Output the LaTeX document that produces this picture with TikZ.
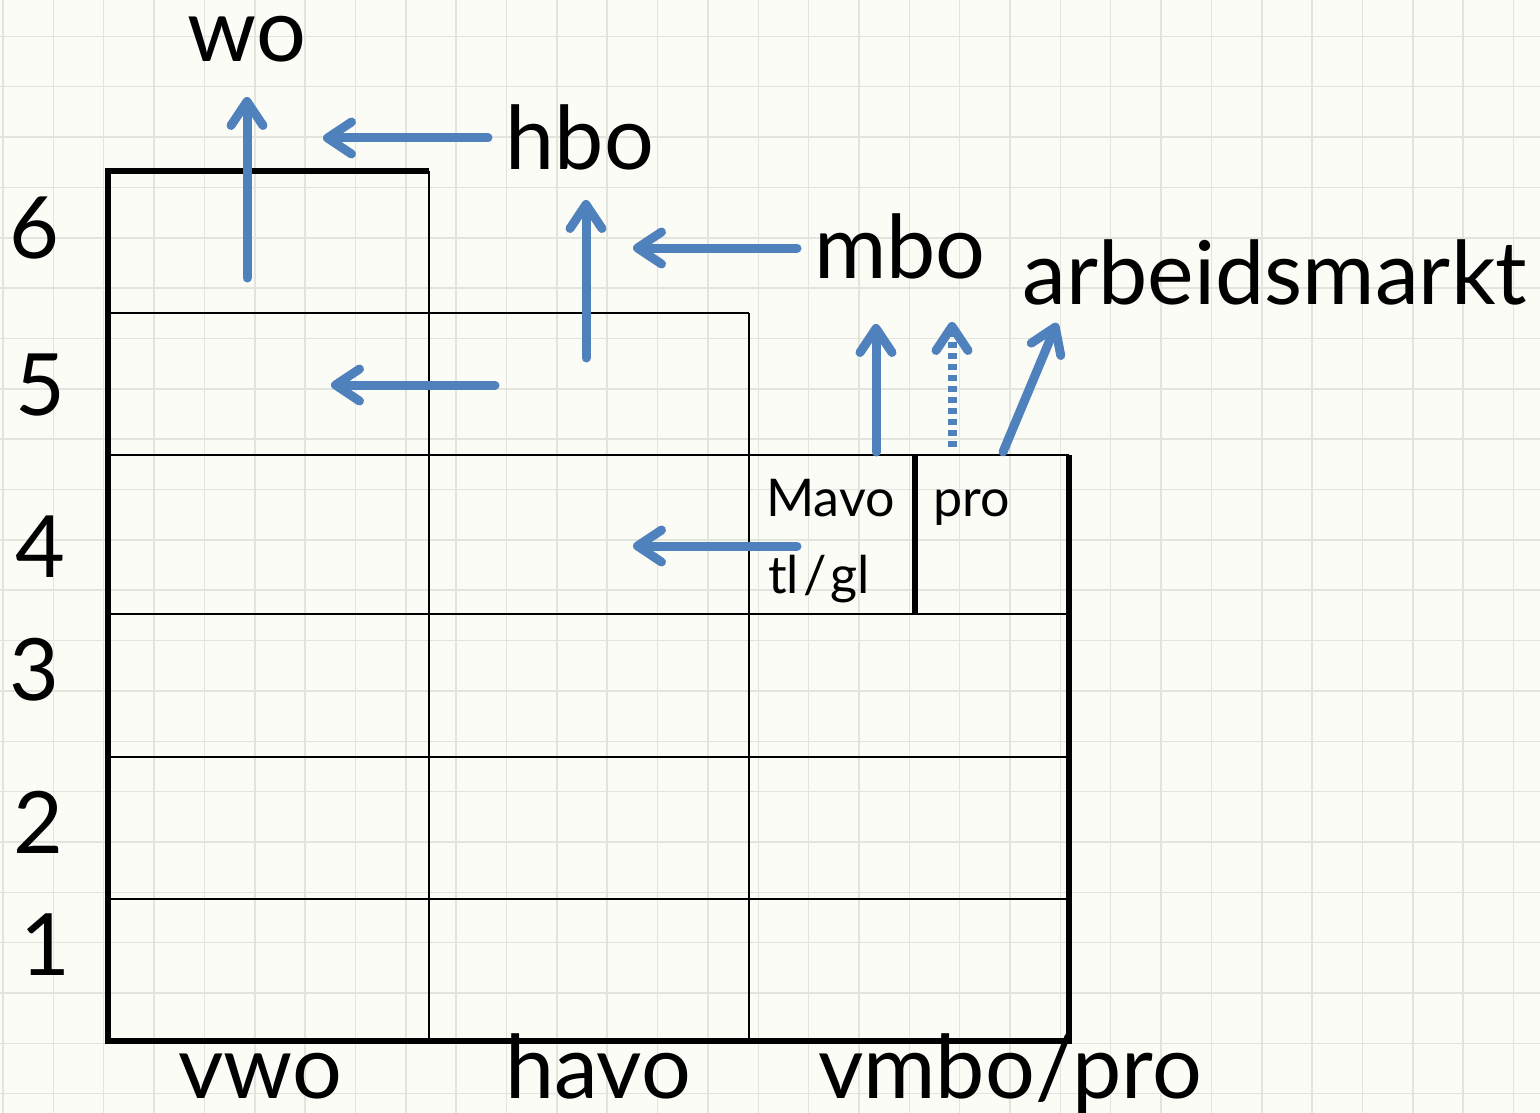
\documentclass[tikz,border=0pt]{standalone}
\usepackage{fontspec}
\setmainfont{Lato}
\usetikzlibrary{arrows.meta}
\definecolor{papier}{RGB}{252,252,247}
\definecolor{ruitjes}{RGB}{226,228,222}
\definecolor{blauw}{RGB}{79,129,189}
\tikzset{
  kop/.style={font=\fontsize{88}{100}\selectfont, inner sep=0pt, anchor=base},
  cijfer/.style={font=\fontsize{86}{100}\selectfont, inner sep=0pt, anchor=base},
  klein/.style={font=\fontsize{52}{60}\selectfont, inner sep=0pt, anchor=base west},
  dik/.style={line width=5.5pt},
  dun/.style={line width=2.8pt},
  pijl/.style={blauw, line width=9pt, line cap=round, -{Straight Barb[length=24pt,width=32pt,round]}},
  stippel/.style={pijl, line cap=butt, dash pattern=on 6pt off 5pt}
}

\begin{document}
\begin{tikzpicture}[x=1pt,y=-1pt]
\useasboundingbox (0,0) rectangle (1540,1113);
\fill[papier] (0,0) rectangle (1540,1113);
\foreach \k in {0,...,30}
  \draw[ruitjes, line width=1.5pt] ({3+50.35*\k},0) --++(0,1113);
\foreach \k in {1,...,22}
  \draw[ruitjes, line width=1.5pt] (0,{-14+50.35*\k}) --++(1540,0);

\draw[dun] (108,313) -- (749,313);
\foreach \ry in {455,614,757,899}
  \draw[dun] (108,\ry) -- (1069,\ry);
\draw[dun] (429,171) -- (429,1041);
\draw[dun] (749,313) -- (749,1041);
\draw[dik] (429,171) -- (108,171) -- (108,1041) -- (1069,1041) -- (1069,455);
\draw[dik] (915,455) -- (915,614);

\foreach \nr/\lx/\ly in {6/34/258, 5/40/415, 4/40/577, 3/34/700, 2/38/853, 1/45/975}
  \node[cijfer] (rij\nr) at (\lx,\ly) {\nr};

\node[kop] (wo) at (247,62) {wo};
\node[kop] (hbo) at (580,169) {hbo};
\node[kop] (mbo) at (900,278) {mbo};
\node[kop] (arbeid) at (1275,304) {arbeidsmarkt};
\node[kop] (vwo) at (260,1098) {vwo};
\node[kop] (havo) at (598,1098) {havo};
\node[kop] (vmbo) at (1010,1098) {vmbo/pro};
\node[klein] (mavo) at (766,516) {Mavo};
\node[klein] (tlgl) at (768,593) {tl\kern4pt/\kern4pt gl};
\node[klein] (pro) at (933,516) {pro};

\coordinate (vwo6) at (247,278);    \coordinate (naarwo) at (247,97);
\coordinate (hbouit) at (488,138);  \coordinate (naarvwo6) at (323,138);
\coordinate (havo5) at (586,358);   \coordinate (naarhbo) at (586,200);
\coordinate (mbouit) at (797,248);  \coordinate (naarhavo5) at (633,248);
\coordinate (havo5w) at (495,385);  \coordinate (naarvwo5) at (331,385);
\coordinate (mavo4) at (797,546);   \coordinate (naarhavo4) at (633,546);
\coordinate (mavouit) at (876,452); \coordinate (naarmbo) at (876,324);
\coordinate (prouit) at (952,447);  \coordinate (naarmbo2) at (952,322);
\coordinate (prouit2) at (1003,452); \coordinate (naararbeid) at (1057,323);

\draw[pijl] (vwo6) -- (naarwo);
\draw[pijl] (hbouit) -- (naarvwo6);
\draw[pijl] (havo5) -- (naarhbo);
\draw[pijl] (mbouit) -- (naarhavo5);
\draw[pijl] (havo5w) -- (naarvwo5);
\draw[pijl] (mavo4) -- (naarhavo4);
\draw[pijl] (mavouit) -- (naarmbo);
\draw[stippel] (prouit) -- (naarmbo2);
\draw[pijl] (prouit2) -- (naararbeid);
\end{tikzpicture}
\end{document}
